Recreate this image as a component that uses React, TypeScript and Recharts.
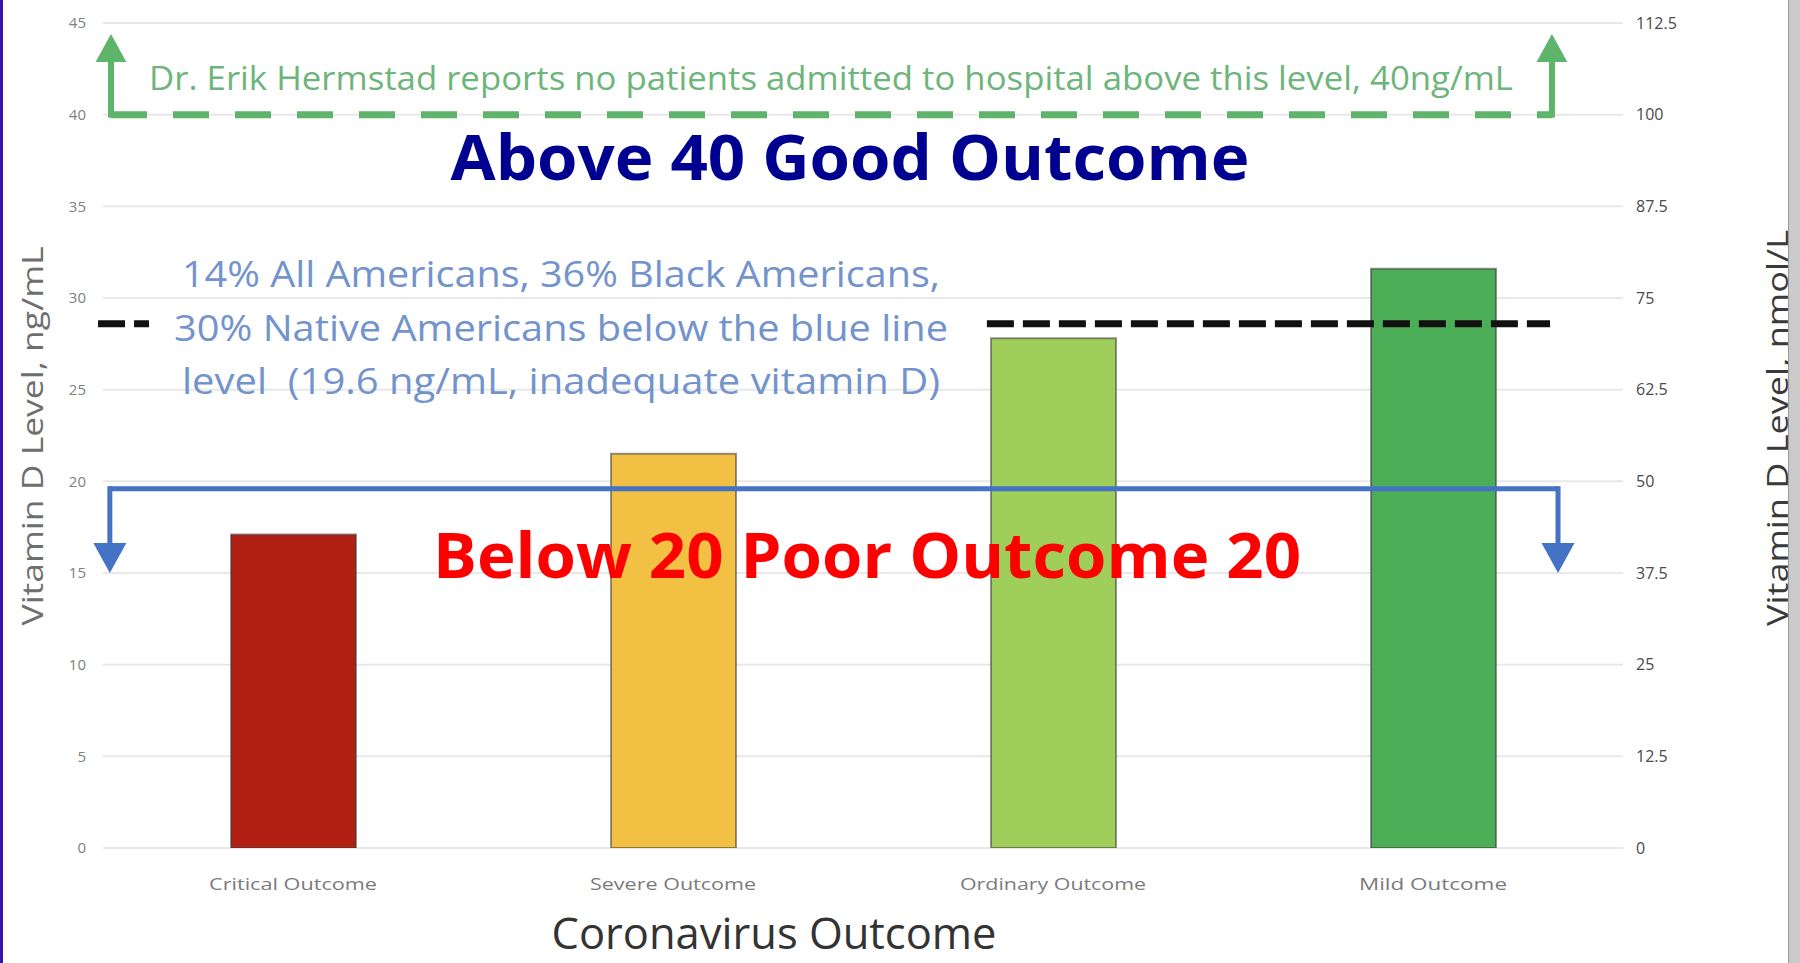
import React from "react";
import { BarChart, Bar, Cell, XAxis, YAxis, CartesianGrid, ReferenceLine } from "recharts";

const outcomes = ["Critical Outcome", "Severe Outcome", "Ordinary Outcome", "Mild Outcome"];
const vitaminD = [17.1, 21.5, 27.8, 31.6];
const barColors = ["#B11E12", "#F2C042", "#9FCF5A", "#4DAE58"];
const ngTicks = [0, 5, 10, 15, 20, 25, 30, 35, 40, 45];
const nmolTicks = [0, 12.5, 25, 37.5, 50, 62.5, 75, 87.5, 100, 112.5];

// reference levels, ng/mL
const hospitalLevel = 40;
const hospitalArrowTip = 44.4;
const inadequateLevel = 19.6;
const inadequateArrowTip = 15;
const blackLevel = 28.6;
// horizontal extents on a 0..4 category-position axis
const greenSpan = [0.021, 3.813];
const blueSpan = [0.018, 3.829];
const blackLeft = [-0.013, 0.121];
const blackRight = [2.326, 3.808];

const blueNote = [
  "14% All Americans, 36% Black Americans,",
  "30% Native Americans below the blue line",
  "level  (19.6 ng/mL, inadequate vitamin D)",
];
const blueNoteWidths = [758, 774, 758];
const tickWidths = [168, 166, 186, 148];

const data = outcomes.map((name, i) => ({ name, value: vitaminD[i], pos: i + 0.5 }));

const FONT = "'Open Sans', sans-serif";

const arrow = (color: string, w: number, head: number) => (p: any) => {
  const { x1, y1, x2, y2 } = p;
  const dx = x2 - x1;
  const dy = y2 - y1;
  const len = Math.hypot(dx, dy) || 1;
  const ux = dx / len;
  const uy = dy / len;
  const bx = x2 - ux * head;
  const by = y2 - uy * head;
  const half = head * 0.55;
  return (
    <g>
      <line x1={x1} y1={y1} x2={bx} y2={by} stroke={color} strokeWidth={w} strokeLinecap="square" />
      <polygon
        points={`${x2},${y2} ${bx - uy * half},${by + ux * half} ${bx + uy * half},${by - ux * half}`}
        fill={color}
      />
    </g>
  );
};

const CatTick = (props: any) => {
  const { x, y, payload, index } = props;
  return (
    <text
      x={x}
      y={y + 34}
      textAnchor="middle"
      fontSize={17}
      fill="#7b7b7b"
      fontFamily={FONT}
      textLength={tickWidths[index]}
      lengthAdjust="spacingAndGlyphs"
    >
      {payload.value}
    </text>
  );
};

// "Below 20" caption drawn through a reference line so it sits above the bars
const poorOutcomeCaption = (p: any) => (
  <text
    x={867}
    y={p.y1 + 89}
    textAnchor="middle"
    fontSize={62}
    fontWeight={700}
    fill="#FF0000"
    fontFamily={FONT}
    textLength={868}
    lengthAdjust="spacingAndGlyphs"
  >
    Below 20 Poor Outcome 20
  </text>
);

export default function App() {
  const green = "#5DB46A";
  const blue = "#4472C4";
  return (
    <div style={{ position: "absolute", left: 0, top: 0, width: 1800, height: 963, background: "#fff", overflow: "hidden" }}>
      <BarChart width={1800} height={963} data={data} margin={{ top: 23, right: 0, bottom: 0, left: 0 }}>
        <CartesianGrid xAxisId="cat" yAxisId="left" vertical={false} stroke="#e8e8e8" strokeWidth={2} />
        <XAxis xAxisId="cat" dataKey="name" height={115} axisLine={false} tickLine={false} tick={<CatTick />} interval={0} />
        <XAxis xAxisId="num" dataKey="pos" type="number" domain={[0, 4]} allowDataOverflow hide />
        <YAxis
          yAxisId="left"
          domain={[0, 45]}
          ticks={ngTicks}
          allowDataOverflow
          width={103}
          axisLine={false}
          tickLine={false}
          tickMargin={11}
          tick={{ fontSize: 15, fill: "#808080", fontFamily: FONT }}
        />
        <YAxis
          yAxisId="right"
          orientation="right"
          type="number"
          domain={[0, 112.5]}
          ticks={nmolTicks}
          allowDataOverflow
          width={177}
          axisLine={false}
          tickLine={false}
          tickMargin={7}
          tick={{ fontSize: 16, fill: "#4a4a4a", fontFamily: FONT, textAnchor: "start" }}
        />
        <Bar xAxisId="cat" yAxisId="left" dataKey="value" barSize={125} isAnimationActive={false} stroke="rgba(60,60,60,0.55)" strokeWidth={2}>
          {data.map((d, i) => (
            <Cell key={d.name} fill={barColors[i]} />
          ))}
        </Bar>

        {/* green 40 ng/mL line with up arrows */}
        <ReferenceLine
          xAxisId="num"
          yAxisId="left"
          ifOverflow="visible"
          segment={[{ x: greenSpan[0], y: hospitalLevel }, { x: greenSpan[1], y: hospitalLevel }]}
          stroke={green}
          strokeWidth={7}
          strokeDasharray="36 26"
        />
        <ReferenceLine
          xAxisId="num"
          yAxisId="left"
          ifOverflow="visible"
          segment={[{ x: greenSpan[0], y: hospitalLevel }, { x: greenSpan[0], y: hospitalArrowTip }]}
          shape={arrow(green, 6, 28)}
        />
        <ReferenceLine
          xAxisId="num"
          yAxisId="left"
          ifOverflow="visible"
          segment={[{ x: greenSpan[1], y: hospitalLevel }, { x: greenSpan[1], y: hospitalArrowTip }]}
          shape={arrow(green, 6, 28)}
        />

        {/* black dashed line */}
        <ReferenceLine
          xAxisId="num"
          yAxisId="left"
          ifOverflow="visible"
          segment={[{ x: blackLeft[0], y: blackLevel }, { x: blackLeft[1], y: blackLevel }]}
          stroke="#111"
          strokeWidth={7}
          strokeDasharray="27 9"
        />
        <ReferenceLine
          xAxisId="num"
          yAxisId="left"
          ifOverflow="visible"
          segment={[{ x: blackRight[0], y: blackLevel }, { x: blackRight[1], y: blackLevel }]}
          stroke="#111"
          strokeWidth={7}
          strokeDasharray="27 9"
        />

        {/* blue 19.6 ng/mL line with down arrows */}
        <ReferenceLine
          xAxisId="num"
          yAxisId="left"
          ifOverflow="visible"
          segment={[{ x: blueSpan[0], y: inadequateLevel }, { x: blueSpan[1], y: inadequateLevel }]}
          stroke={blue}
          strokeWidth={5}
        />
        <ReferenceLine
          xAxisId="num"
          yAxisId="left"
          ifOverflow="visible"
          segment={[{ x: blueSpan[0], y: inadequateLevel }, { x: blueSpan[0], y: inadequateArrowTip }]}
          shape={arrow(blue, 5, 30)}
        />
        <ReferenceLine
          xAxisId="num"
          yAxisId="left"
          ifOverflow="visible"
          segment={[{ x: blueSpan[1], y: inadequateLevel }, { x: blueSpan[1], y: inadequateArrowTip }]}
          shape={arrow(blue, 5, 30)}
        />
        <ReferenceLine xAxisId="cat" yAxisId="left" y={inadequateLevel} ifOverflow="visible" shape={poorOutcomeCaption} />

        {/* annotations */}
        <text x={831} y={90} textAnchor="middle" fontSize={33} fill="#6DB57A" fontFamily={FONT} textLength={1364} lengthAdjust="spacingAndGlyphs">
          Dr. Erik Hermstad reports no patients admitted to hospital above this level, 40ng/mL
        </text>
        <text x={850} y={180} textAnchor="middle" fontSize={62} fontWeight={700} fill="#000090" fontFamily={FONT} textLength={799} lengthAdjust="spacingAndGlyphs">
          Above 40 Good Outcome
        </text>
        {blueNote.map((line, i) => (
          <text
            key={line}
            x={561}
            y={287 + i * 53.5}
            textAnchor="middle"
            fontSize={36}
            fill="#7393CD"
            fontFamily={FONT}
            textLength={blueNoteWidths[i]}
            lengthAdjust="spacingAndGlyphs"
            xmlSpace="preserve"
            style={{ whiteSpace: "pre" }}
          >
            {line}
          </text>
        ))}
        <text x={774} y={949} textAnchor="middle" fontSize={44} fill="#333" fontFamily={FONT} textLength={445} lengthAdjust="spacingAndGlyphs">
          Coronavirus Outcome
        </text>
        <text
          x={31}
          y={436}
          transform="rotate(-90, 31, 436)"
          textAnchor="middle"
          dominantBaseline="central"
          fontSize={29}
          fill="#6f6f6f"
          fontFamily={FONT}
          textLength={379}
          lengthAdjust="spacingAndGlyphs"
        >
          Vitamin D Level, ng/mL
        </text>
        <text
          x={1776}
          y={428}
          transform="rotate(-90, 1776, 428)"
          textAnchor="middle"
          dominantBaseline="central"
          fontSize={29}
          fill="#3a3a3a"
          fontFamily={FONT}
          textLength={396}
          lengthAdjust="spacingAndGlyphs"
        >
          Vitamin D Level, nmol/L
        </text>
      </BarChart>
      <div style={{ position: "absolute", left: 0, top: 0, width: 3, height: 963, background: "#3b10a5" }} />
      <div style={{ position: "absolute", left: 1788, top: 0, width: 12, height: 963, background: "#cacaca", borderLeft: "1px solid #9a9a9a", boxSizing: "border-box" }} />
    </div>
  );
}
